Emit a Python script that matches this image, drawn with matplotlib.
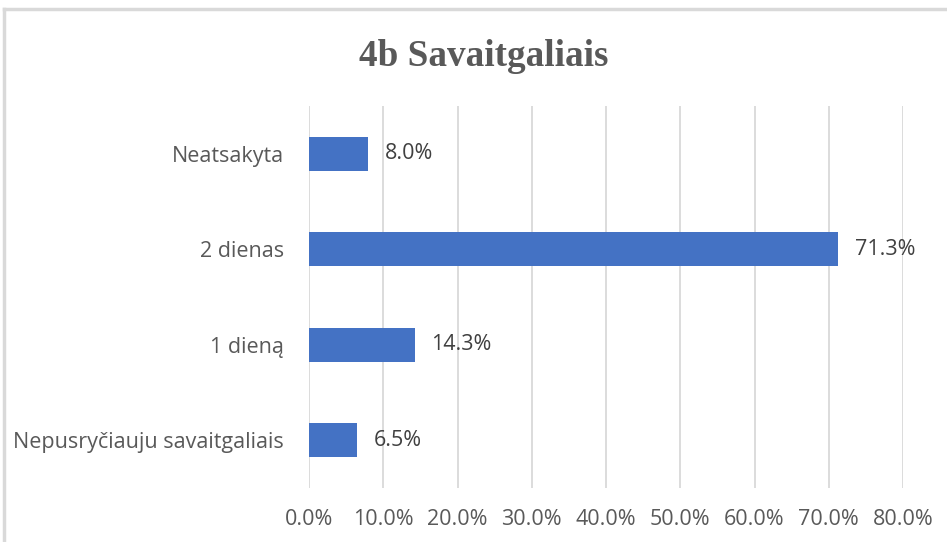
import matplotlib.pyplot as plt
from matplotlib.lines import Line2D

categories = ["Nepusryčiauju savaitgaliais", "1 dieną", "2 dienas", "Neatsakyta"]
values = [6.5, 14.3, 71.3, 8.0]
xticks = [0, 10, 20, 30, 40, 50, 60, 70, 80]

text_color = "#595959"
grid_color = "#d9d9d9"

fig = plt.figure(figsize=(9.47, 5.42), dpi=100)
ax = fig.add_axes([309/947, 1-488/542, (903-309)/947, (488-106)/542])

ax.barh(categories, values, height=0.36, color="#4472C4", zorder=3)
for i, v in enumerate(values):
    ax.text(v + 2.2, i, f"{v:.1f}%", va="center", ha="left",
            fontsize=15.5, color="#404040", family="Open Sans")

ax.set_xlim(0, 80)
ax.set_ylim(-0.5, 3.5)
ax.set_xticks(xticks)
ax.set_xticklabels([f"{t:.1f}%" for t in xticks])
ax.grid(axis="x", color=grid_color, linewidth=1.3, zorder=0)
for s in ax.spines.values():
    s.set_visible(False)
ax.tick_params(length=0, labelsize=15.5, labelcolor=text_color)
ax.tick_params(axis="y", pad=18)
ax.tick_params(axis="x", pad=15)
for lab in ax.get_xticklabels() + ax.get_yticklabels():
    lab.set_family("Open Sans")

fig.text(484/947, 1-57/542, "4b Savaitgaliais", ha="center", va="center",
         fontsize=26.7, fontweight="bold", color=text_color, family="Liberation Serif")

# chart frame edges (partly cropped)
fig.add_artist(Line2D([4/947, 1], [1-9/542, 1-9/542], color=grid_color, linewidth=2.5))
fig.add_artist(Line2D([4/947, 4/947], [0, 1-9/542], color=grid_color, linewidth=2.5))

fig.savefig("out.png", dpi=100)
